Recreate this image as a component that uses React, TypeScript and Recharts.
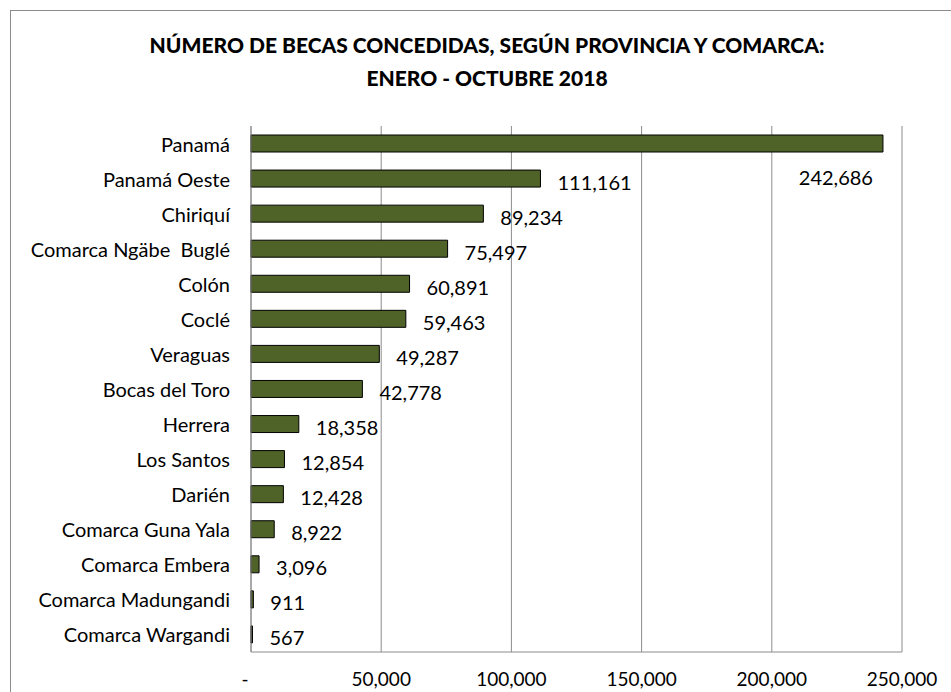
import { Bar, BarChart, CartesianGrid, LabelList, XAxis, YAxis } from 'recharts';

const provinces = [
  'Panamá',
  'Panamá Oeste',
  'Chiriquí',
  'Comarca Ngäbe  Buglé',
  'Colón',
  'Coclé',
  'Veraguas',
  'Bocas del Toro',
  'Herrera',
  'Los Santos',
  'Darién',
  'Comarca Guna Yala',
  'Comarca Embera',
  'Comarca Madungandi',
  'Comarca Wargandi',
];
const becas = [242686, 111161, 89234, 75497, 60891, 59463, 49287, 42778, 18358, 12854, 12428, 8922, 3096, 911, 567];
const xTicks = [0, 50000, 100000, 150000, 200000, 250000];

const data = provinces.map((name, i) => ({ name, value: becas[i] }));

const FONT = 'Lato, "Open Sans", sans-serif';
const fmt = (v: number) => (v === 0 ? '-' : v.toLocaleString('en-US'));

const PLOT_RIGHT = 902;

function ValueLabel(props: any) {
  const { x, y, width, height, value } = props;
  const end = Number(x) + Number(width);
  const cy = Number(y) + Number(height) / 2;
  const overflow = end + 90 > PLOT_RIGHT;
  return (
    <text
      x={overflow ? end - 10 : end + 17}
      y={overflow ? cy + 33 : cy + 3}
      textAnchor={overflow ? 'end' : 'start'}
      dominantBaseline="central"
      fontFamily={FONT}
      fontSize={20}
      fill="#000"
    >
      {fmt(Number(value))}
    </text>
  );
}

function XTick({ x, payload }: any) {
  const zero = payload.value === 0;
  return (
    <text
      x={zero ? x - 6 : x}
      y={678}
      textAnchor="middle"
      dominantBaseline="central"
      fontFamily={FONT}
      fontSize={19}
      fill="#000"
    >
      {fmt(payload.value)}
    </text>
  );
}

function YTick({ x, y, payload }: any) {
  return (
    <text
      x={x - 13}
      y={y}
      textAnchor="end"
      dominantBaseline="central"
      fontFamily={FONT}
      fontSize={20}
      fill="#000"
      style={{ whiteSpace: 'pre' }}
    >
      {payload.value}
    </text>
  );
}

export default function App() {
  return (
    <div style={{ position: 'absolute', left: 0, top: 0, width: 951, height: 692, background: '#fff', overflow: 'hidden' }}>
      <svg width={951} height={692} style={{ position: 'absolute', left: 0, top: 0 }}>
        <rect x={10.5} y={10.5} width={960} height={720} fill="#fff" stroke="#8c8c8c" strokeWidth={1} />
        <text x={487} y={44} textAnchor="middle" dominantBaseline="central" fontFamily={FONT} fontWeight={900} fontSize={21}>
          NÚMERO DE BECAS CONCEDIDAS, SEGÚN PROVINCIA Y COMARCA:
        </text>
        <text x={487} y={77} textAnchor="middle" dominantBaseline="central" fontFamily={FONT} fontWeight={900} fontSize={21}>
          ENERO - OCTUBRE 2018
        </text>
      </svg>
      <div style={{ position: 'absolute', left: 0, top: 0 }}>
        <BarChart
          width={951}
          height={692}
          data={data}
          layout="vertical"
          margin={{ top: 126, right: 49, bottom: 0, left: 0 }}
        >
          <CartesianGrid horizontal={false} vertical stroke="#8c8c8c" strokeWidth={1} />
          <XAxis
            type="number"
            domain={[0, 250000]}
            ticks={xTicks}
            interval={0}
            height={40}
            axisLine={{ stroke: '#8c8c8c' }}
            tickLine={false}
            tick={<XTick />}
          />
          <YAxis
            type="category"
            dataKey="name"
            width={251}
            axisLine={{ stroke: '#8c8c8c' }}
            tickLine={false}
            tick={<YTick />}
            interval={0}
          />
          <Bar dataKey="value" fill="#4f6228" stroke="#000" strokeWidth={1} barSize={17} isAnimationActive={false}>
            <LabelList dataKey="value" content={<ValueLabel />} />
          </Bar>
        </BarChart>
      </div>
    </div>
  );
}
